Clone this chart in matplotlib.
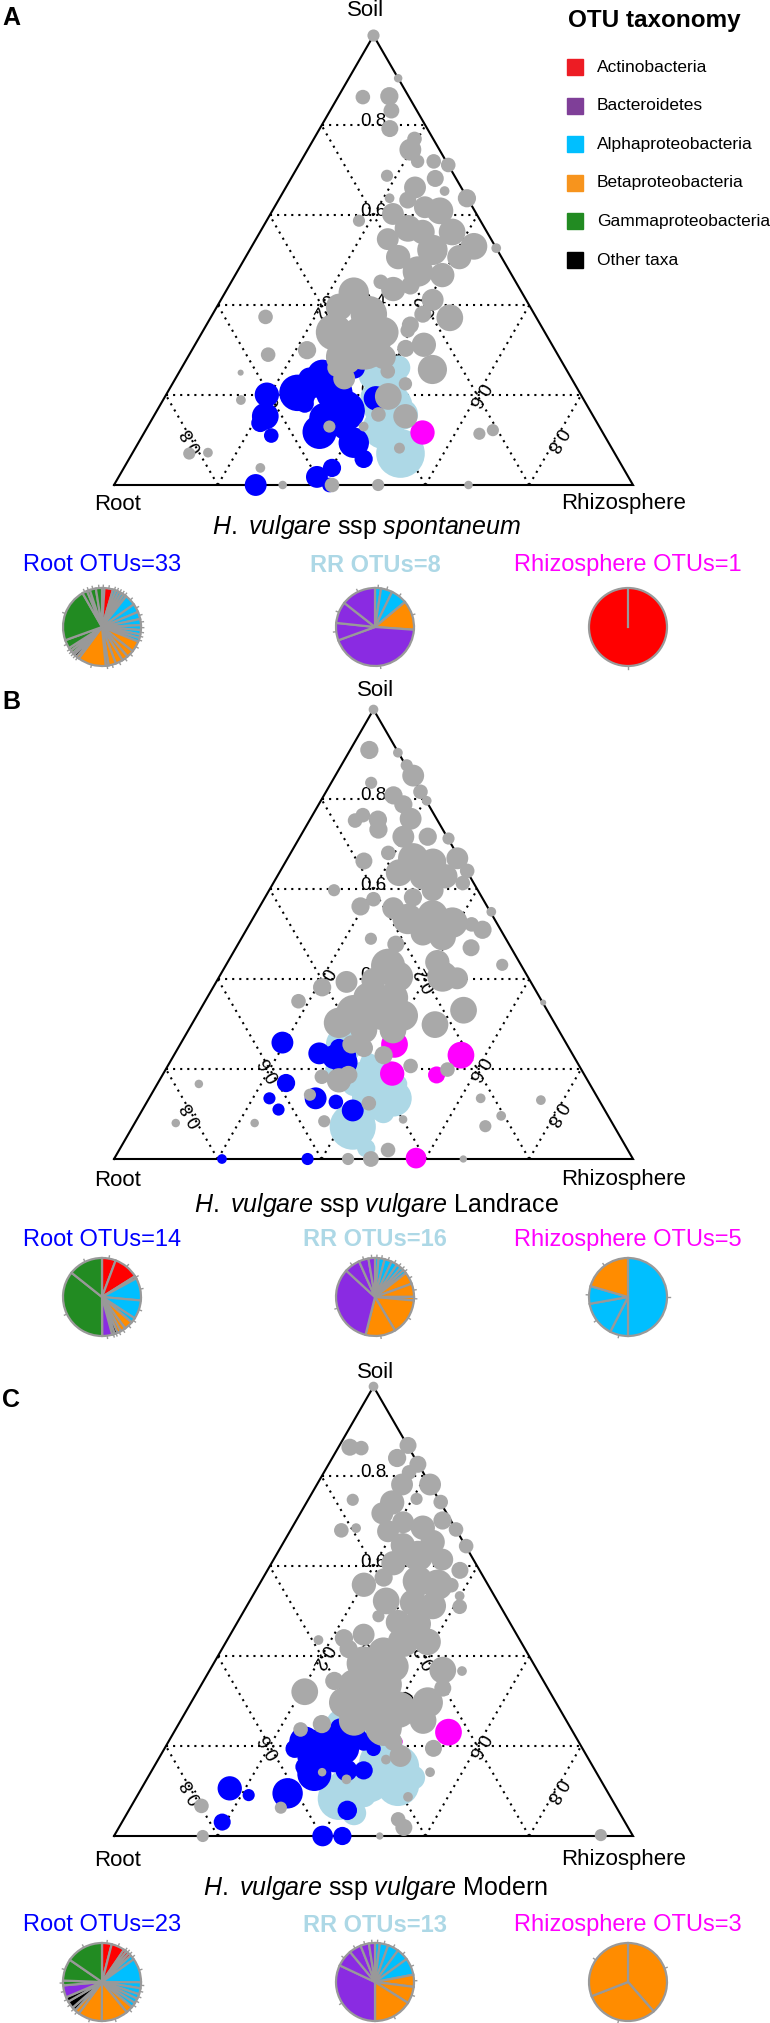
import numpy as np
import matplotlib
matplotlib.use("Agg")
import matplotlib.pyplot as plt
from matplotlib.patches import Rectangle

plt.rcParams['font.family'] = ['Liberation Sans', 'DejaVu Sans']
plt.rcParams['mathtext.fontset'] = 'custom'
plt.rcParams['mathtext.rm'] = 'Liberation Sans'
plt.rcParams['mathtext.it'] = 'Liberation Sans:italic'
plt.rcParams['mathtext.bf'] = 'Liberation Sans:bold'

# ---- data: (soil, rhizosphere, abundance) for each OTU, root = 1 - soil - rhizosphere
a_gray = [(1.0, 0.0, 5), (.905, .095, 3.5), (.863, .048, 6), (.865, .098, 7.5), (.833, .118, 6.5),
          (.793, .135, 7), (.770, .194, 6), (.746, .198, 9), (.720, .225, 5.5), (.720, .256, 6),
          (.712, .288, 6), (.688, .182, 5), (.682, .278, 7), (.662, .249, 9), (.654, .310, 4),
          (.638, .361, 7.5), (.638, .212, 4), (.634, .249, 7), (.618, .290, 9), (.610, .323, 11),
          (.588, .178, 5), (.603, .236, 9), (.571, .281, 11), (.547, .254, 9), (.563, .313, 10),
          (.563, .370, 11), (.531, .428, 11), (.527, .473, 4), (.523, .352, 12.5), (.507, .412, 10),
          (.507, .294, 10), (.475, .348, 12.5), (.467, .399, 10), (.452, .288, 6), (.436, .320, 10),
          (.428, .248, 12.5), (.444, .349, 7.5), (.412, .408, 9), (.372, .461, 11), (.380, .405, 7),
          (.356, .393, 7), (.396, .236, 11), (.380, .301, 15), (.340, .254, 15), (.316, .323, 22),
          (.285, .301, 15), (.340, .349, 12.5), (.285, .377, 10), (.300, .222, 7.5), (.374, .105, 6),
          (.290, .152, 6), (.250, .119, 2.5), (.189, .150, 4), (.304, .410, 7), (.312, .441, 10),
          (.257, .485, 12), (.344, .394, 6), (.253, .401, 6), (.237, .325, 9), (.261, .298, 7.5),
          (.225, .449, 5.5), (.197, .430, 11), (.153, .485, 10), (.157, .431, 6), (.130, .416, 4),
          (.082, .509, 4.5), (.114, .647, 5), (.122, .669, 5), (.070, .110, 5), (.072, .145, 4),
          (.038, .263, 4), (0.0, .325, 3.5), (0.0, .420, 6), (0.0, .509, 5), (0.0, .683, 3.5),
          (.130, .350, 5)]
a_root = [(.201, .194, 10), (.153, .215, 11), (.138, .213, 7.5), (.110, .248, 6), (.205, .251, 15),
          (.221, .276, 10), (.245, .279, 12.5), (.205, .322, 15), (.165, .361, 17), (.118, .337, 14),
          (.149, .331, 12.5), (.094, .415, 12.5), (.058, .452, 7.5), (.038, .401, 7.5), (.018, .382, 9),
          (0.0, .415, 6), (0.0, .273, 9), (.193, .408, 10), (.261, .332, 9), (.181, .277, 7.5),
          (.126, .380, 9), (.237, .258, 9), (.229, .319, 10)]
a_rr = [(.237, .410, 15), (.173, .442, 20), (.126, .456, 17), (.070, .517, 20), (.245, .378, 12.5),
        (.157, .478, 12.5), (.197, .400, 10), (.261, .417, 10)]
a_rhizo = [(.119, .533, 10)]

b_gray = [(1.0, 0.0, 4), (.910, .037, 7.5), (.904, .095, 4), (.876, .126, 5), (.853, .150, 9),
          (.817, .182, 6), (.797, .204, 4), (.809, .134, 7.5), (.789, .163, 7.5), (.837, .077, 5),
          (.753, .088, 6), (.765, .097, 6), (.755, .131, 7.5), (.733, .143, 7.5), (.757, .193, 9),
          (.717, .199, 9), (.717, .246, 7.5), (.713, .288, 5), (.681, .188, 6), (.663, .150, 7),
          (.669, .242, 12.5), (.661, .284, 11), (.669, .327, 9), (.641, .360, 6), (.637, .231, 11),
          (.629, .281, 11), (.629, .324, 10), (.582, .285, 7.5), (.598, .315, 9), (.614, .365, 6),
          (.598, .125, 5), (.562, .194, 7.5), (.578, .211, 6), (.558, .259, 9), (.534, .299, 12.5),
          (.542, .343, 12.5), (.526, .389, 12.5), (.522, .428, 6), (.510, .455, 7.5), (.550, .452, 4),
          (.502, .344, 10), (.494, .386, 11), (.478, .304, 7), (.490, .250, 5), (.470, .453, 7),
          (.432, .532, 5), (.438, .404, 10), (.406, .430, 12.5), (.402, .460, 9), (.430, .313, 14),
          (.406, .344, 12.5), (.398, .301, 10), (.394, .251, 9), (.382, .210, 7.5), (.351, .180, 6),
          (.359, .311, 12.5), (.359, .358, 12.5), (.327, .298, 14), (.327, .355, 15), (.319, .397, 12.5),
          (.303, .282, 12.5), (.287, .338, 11), (.287, .394, 11), (.299, .469, 11), (.331, .508, 11),
          (.348, .653, 2.5), (.255, .330, 7.5), (.247, .358, 7.5), (.231, .404, 7.5), (.207, .468, 6),
          (.199, .543, 6), (.175, .346, 10), (.187, .358, 7.5), (.183, .309, 6), (.143, .306, 5),
          (.124, .429, 6), (.167, .080, 3.5), (.080, .079, 3.5), (.080, .231, 3.5), (.084, .363, 5),
          (.088, .513, 3.5), (.135, .639, 4), (.096, .698, 4), (.073, .679, 5), (.131, .757, 4),
          (.020, .518, 6), (0.0, .451, 5), (0.0, .495, 6.5), (0.0, .673, 3)]
b_root = [(.259, .195, 9), (.235, .278, 9), (.227, .311, 10), (.215, .336, 11), (.169, .247, 7.5),
          (.135, .232, 5), (.110, .262, 5), (.135, .321, 9), (.127, .364, 6), (.108, .406, 9),
          (0.0, .208, 4), (0.0, .373, 5), (.247, .310, 7.5), (.231, .337, 6)]
b_rr = [(.255, .316, 15), (.271, .326, 10), (.167, .416, 20), (.135, .432, 17.5), (.135, .471, 15),
        (.072, .424, 19), (.024, .474, 7.5), (.191, .386, 10), (.191, .433, 10), (.199, .325, 7.5),
        (.167, .379, 10), (.167, .464, 7.5), (.096, .428, 10), (.088, .399, 7.5), (.104, .467, 9),
        (.215, .384, 7.5)]
b_rhizo = [(.255, .413, 11), (.231, .553, 11), (.190, .441, 10), (.187, .528, 7), (.002, .581, 8.5)]

c_gray = [(1.0, 0.0, 4), (.865, .022, 7), (.863, .045, 6), (.869, .132, 7), (.841, .125, 7.5),
          (.827, .172, 7), (.809, .164, 6), (.782, .218, 9), (.782, .164, 9), (.750, .208, 5),
          (.743, .258, 6), (.748, .086, 5), (.742, .165, 10), (.718, .158, 9), (.680, .098, 6),
          (.685, .124, 4), (.698, .208, 9), (.678, .189, 9), (.686, .252, 10), (.702, .282, 7.5),
          (.682, .318, 6), (.645, .356, 6), (.654, .287, 10), (.647, .233, 10), (.623, .274, 12.5),
          (.615, .325, 9), (.591, .371, 7), (.607, .235, 10), (.559, .202, 10), (.575, .232, 7.5),
          (.567, .302, 12.5), (.559, .344, 12.5), (.558, .371, 6), (.534, .399, 4), (.510, .411, 6),
          (.523, .263, 11), (.519, .317, 11), (.512, .358, 11), (.489, .265, 5), (.476, .309, 10),
          (.472, .349, 11), (.448, .257, 9), (.440, .223, 7.5), (.436, .176, 4), (.432, .341, 12.5),
          (.432, .388, 11), (.416, .244, 7.5), (.408, .315, 12.5), (.384, .289, 14), (.377, .350, 12.5),
          (.369, .449, 11), (.367, .487, 4), (.345, .252, 7.5), (.321, .207, 11), (.329, .469, 7),
          (.337, .294, 12.5), (.337, .351, 15), (.297, .295, 12.5), (.297, .352, 17.5), (.281, .407, 15),
          (.297, .456, 12.5), (.257, .467, 11), (.257, .334, 12.5), (.241, .399, 15), (.249, .276, 7.5),
          (.237, .241, 6), (.210, .433, 7.5), (.195, .518, 7), (.178, .463, 9), (.170, .439, 4),
          (.142, .538, 4), (.142, .330, 3.5), (.126, .385, 4), (.087, .523, 4), (.067, .135, 6),
          (.063, .290, 5), (.037, .529, 6), (.019, .549, 7), (0.0, .171, 5), (0.0, .512, 3),
          (.002, .937, 5)]
c_root = [(.210, .262, 12.5), (.210, .300, 12.5), (.226, .330, 12.5), (.178, .297, 14), (.194, .346, 12.5),
          (.210, .376, 7.5), (.138, .317, 14), (.146, .375, 9), (.146, .408, 7.5), (.057, .421, 8),
          (.241, .314, 7.5), (.241, .342, 7.5), (.095, .287, 12.5), (.106, .170, 10), (.091, .214, 5),
          (.031, .193, 7), (0.0, .402, 8.5), (0.0, .440, 7.5), (.194, .251, 7.5), (.162, .343, 7.5),
          (.194, .403, 6), (.154, .290, 7.5), (.226, .354, 7.5)]
c_rr = [(.253, .307, 10), (.162, .438, 20), (.154, .470, 17.5), (.122, .430, 17.5), (.114, .490, 17.5),
        (.083, .392, 17.5), (.114, .386, 12.5), (.051, .437, 10), (.186, .445, 10), (.226, .387, 10),
        (.202, .323, 7.5), (.130, .511, 10), (.091, .436, 10)]
c_rhizo = [(.231, .529, 11), (.210, .442, 4), (.265, .396, 3)]

# pie data: relative abundance and taxonomy, clockwise from 12 o'clock
a_root_pie = [0.010, 0.035, 0.012, 0.012, 0.012, 0.012, 0.012, 0.045, 0.035, 0.030, 0.025, 0.020,
              0.018, 0.015, 0.015, 0.045, 0.030, 0.025, 0.030, 0.030, 0.012, 0.115, 0.012, 0.012,
              0.010, 0.012, 0.012, 0.035, 0.220, 0.020, 0.012, 0.025, 0.025]
a_root_tax = ['act'] * 2 + ['alp'] * 13 + ['bet'] * 8 + ['oth'] * 2 + ['gam'] * 8
a_rr_pie = [0.025, 0.047, 0.067, 0.122, 0.433, 0.072, 0.089, 0.144]
a_rr_tax = ['alp'] * 3 + ['bet'] + ['bac'] * 4
a_rhizo_pie = [1.0]
a_rhizo_tax = ['act']

b_root_pie = [0.055, 0.10, 0.01, 0.09, 0.075, 0.02, 0.035, 0.02, 0.015, 0.012, 0.01, 0.04, 0.345, 0.138]
b_root_tax = ['act'] * 3 + ['alp'] * 3 + ['bet'] * 3 + ['oth'] * 2 + ['bac'] + ['gam'] * 2
b_rr_pie = [0.015, 0.025, 0.03, 0.025, 0.02, 0.015, 0.015, 0.05, 0.055, 0.015, 0.15, 0.125,
            0.33, 0.065, 0.04, 0.027]
b_rr_tax = ['alp'] * 7 + ['bet'] * 5 + ['bac'] * 4
b_rhizo_pie = [0.5, 0.075, 0.147, 0.073, 0.205]
b_rhizo_tax = ['alp'] * 4 + ['bet']

c_root_pie = [0.04, 0.055, 0.012, 0.012, 0.012, 0.02, 0.10, 0.025, 0.025, 0.02, 0.02, 0.02,
              0.03, 0.11, 0.10, 0.02, 0.015, 0.03, 0.02, 0.05, 0.02, 0.09, 0.154]
c_root_tax = ['act'] * 5 + ['alp'] * 7 + ['bet'] * 4 + ['oth'] * 3 + ['bac'] + ['gam'] * 3
c_rr_pie = [0.02, 0.035, 0.045, 0.05, 0.07, 0.05, 0.07, 0.16, 0.32, 0.07, 0.05, 0.035, 0.025]
c_rr_tax = ['alp'] * 5 + ['bet'] * 3 + ['bac'] * 5
c_rhizo_pie = [0.386, 0.305, 0.309]
c_rhizo_tax = ['bet'] * 3

legend_names = ['Actinobacteria', 'Bacteroidetes', 'Alphaproteobacteria',
                'Betaproteobacteria', 'Gammaproteobacteria', 'Other taxa']
grid_levels = [0.2, 0.4, 0.6, 0.8]

# ---- styling
pie_cols = {'act': '#FF0000', 'bac': '#8A2BE2', 'alp': '#00BFFF',
            'bet': '#FF8C00', 'gam': '#228B22', 'oth': '#000000'}
legend_cols = ['#ED1C24', '#7F3F98', '#00BFFF', '#F7941D', '#228B22', '#000000']

W, H = 770, 2023
fig = plt.figure(figsize=(W / 100, H / 100), dpi=100)
h = np.sqrt(3) / 2


def fx(x):
    return x / W


def fy(y):
    return 1 - y / H


def tern(pts):
    a = np.array(pts, dtype=float)
    return a[:, 1] + a[:, 0] / 2, a[:, 0] * h, a[:, 2]


def triangle(base, gray, root, rr, rhizo):
    ax = fig.add_axes([fx(114), fy(base), 519 / W, 519 * h / H])
    ax.set_xlim(0, 1)
    ax.set_ylim(0, h)
    ax.axis('off')
    dot = dict(color='black', lw=1.5, ls=(0, (1, 2.4)), zorder=1)
    for v in grid_levels:
        ax.plot([v / 2, 1 - v / 2], [v * h, v * h], **dot)
        ax.plot([1 - v, (1 - v) / 2], [0, (1 - v) * h], **dot)
        ax.plot([v, v + (1 - v) / 2], [0, (1 - v) * h], **dot)
        lab = '%.1f' % v
        ax.text(0.5, v * h + 0.008, lab, ha='center', va='center', fontsize=13.5, zorder=1.5)
        ax.text((1 - v) * 0.75, (1 - v) * h / 2, lab, ha='center', va='center',
                fontsize=13.5, rotation=120, zorder=1.5)
        ax.text(v + (1 - v) * 0.25, (1 - v) * h / 2, lab, ha='center', va='center',
                fontsize=13.5, rotation=-120, zorder=1.5)
    ax.plot([0, 1, 0.5, 0], [0, 0, h, 0], color='black', lw=1.5, zorder=2,
            clip_on=False, solid_joinstyle='miter')
    for pts, col, z in [(rr, '#ADD8E6', 3), (root, '#0000FF', 4),
                        (rhizo, '#FF00FF', 5), (gray, '#A9A9A9', 6)]:
        x, y, ab = tern(pts)
        ax.scatter(x, y, s=(1.75 * ab) ** 2, c=col, linewidths=0, clip_on=False, zorder=z)


def pie(cx, cy, fracs, tax):
    R = 39
    ax = fig.add_axes([fx(cx - R), fy(cy + R), 2 * R / W, 2 * R / H])
    ax.pie(fracs, colors=[pie_cols[t] for t in tax], startangle=90, counterclock=False,
           wedgeprops=dict(edgecolor='#999999', linewidth=1.6))
    f = np.array(fracs) / np.sum(fracs)
    mid = np.cumsum(f) - f / 2
    ang = np.pi / 2 - 2 * np.pi * mid
    for a in ang:
        ax.plot([np.cos(a), 1.07 * np.cos(a)], [np.sin(a), 1.07 * np.sin(a)],
                color='#999999', lw=1, clip_on=False)
    if len(fracs) == 1:
        ax.plot([0, 0], [0, 1], color='#999999', lw=1.6)
    ax.set_xlim(-1, 1)
    ax.set_ylim(-1, 1)
    ax.axis('off')


panels = [
    dict(letter='A', ly=18, soil=(366, 11), base=485, axy=504, title_y=527, title_x=367,
         title=r'$\mathit{H.}$ $\mathit{vulgare}$ ssp $\mathit{spontaneum}$', lab_y=565, pie_y=627,
         pts=(a_gray, a_root, a_rr, a_rhizo),
         pies=((a_root_pie, a_root_tax), (a_rr_pie, a_rr_tax), (a_rhizo_pie, a_rhizo_tax))),
    dict(letter='B', ly=702, soil=(376, 690), base=1159, axy=1180, title_y=1205, title_x=376,
         title=r'$\mathit{H.}$ $\mathit{vulgare}$ ssp $\mathit{vulgare}$ Landrace', lab_y=1240, pie_y=1297,
         pts=(b_gray, b_root, b_rr, b_rhizo),
         pies=((b_root_pie, b_root_tax), (b_rr_pie, b_rr_tax), (b_rhizo_pie, b_rhizo_tax))),
    dict(letter='C', ly=1400, soil=(376, 1372), base=1836, axy=1860, title_y=1888, title_x=376,
         title=r'$\mathit{H.}$ $\mathit{vulgare}$ ssp $\mathit{vulgare}$ Modern', lab_y=1925, pie_y=1982,
         pts=(c_gray, c_root, c_rr, c_rhizo),
         pies=((c_root_pie, c_root_tax), (c_rr_pie, c_rr_tax), (c_rhizo_pie, c_rhizo_tax))),
]

for p in panels:
    triangle(p['base'], *p['pts'])
    fig.text(fx(2), fy(p['ly']), p['letter'], fontsize=18, fontweight='bold', va='center')
    fig.text(fx(p['soil'][0]), fy(p['soil'][1]), 'Soil', fontsize=16, ha='center', va='center')
    fig.text(fx(118), fy(p['axy']), 'Root', fontsize=16, ha='center', va='center')
    fig.text(fx(624), fy(p['axy']), 'Rhizosphere', fontsize=16, ha='center', va='center')
    fig.text(fx(p['title_x']), fy(p['title_y']), p['title'], fontsize=18, ha='center', va='center')
    n = [len(q[0]) for q in p['pies']]
    fig.text(fx(102), fy(p['lab_y']), 'Root OTUs=%d' % n[0], fontsize=17, color='#0000FF',
             ha='center', va='center')
    fig.text(fx(375), fy(p['lab_y']), 'RR OTUs=%d' % n[1], fontsize=17, color='#ADD8E6',
             fontweight='bold', ha='center', va='center')
    fig.text(fx(628), fy(p['lab_y']), 'Rhizosphere OTUs=%d' % n[2], fontsize=17, color='#FF00FF',
             ha='center', va='center')
    for cx, (fr, tx) in zip([102, 375, 628], p['pies']):
        pie(cx, p['pie_y'], fr, tx)

# legend
fig.text(fx(654), fy(20), 'OTU taxonomy', fontsize=17.5, fontweight='bold', ha='center', va='center')
for i, (name, col) in enumerate(zip(legend_names, legend_cols)):
    yc = 67 + i * 38.6
    fig.patches.append(Rectangle((fx(567), fy(yc + 8)), 16 / W, 16 / H, color=col,
                                 transform=fig.transFigure, figure=fig))
    fig.text(fx(597), fy(yc), name, fontsize=12.5, va='center')

fig.savefig('out.png', dpi=100)
